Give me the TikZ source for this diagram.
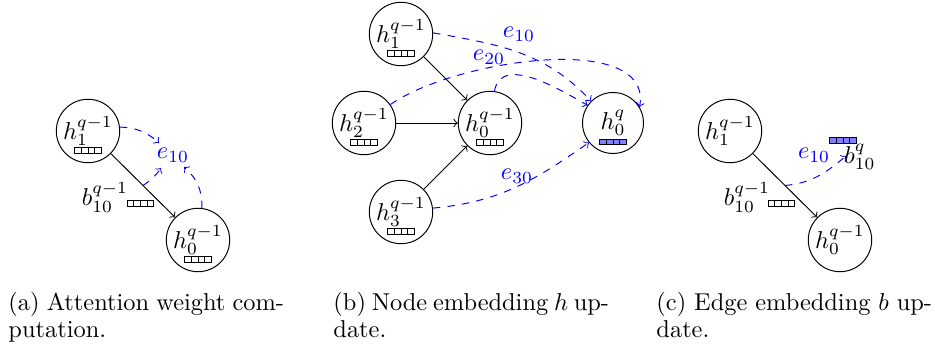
\documentclass[tikz,border=0pt]{standalone}
\begin{document}
\begin{tikzpicture}[x=0.41pt,y=-0.41pt,
  vnode/.style={circle,draw,minimum size=26pt,inner sep=0pt},
  lbl/.style={inner sep=0pt},
  conn/.style={->},
  att/.style={->,blue,dashed},
  elbl/.style={inner sep=0pt,text=blue},
  captext/.style={inner sep=0pt,anchor=north west,text width=113pt,align=justify,font=\fontsize{10}{11.2}\selectfont},
  pics/embbar/.style={code={\foreach \i in {0,1,2,3}{\draw[line width=0.4pt,fill=#1] ({(\i-2)*2.7pt},-1.15pt) rectangle ++(2.7pt,2.3pt);}}},
]
\useasboundingbox (0,0) rectangle (935,347);

% ---------- panel (a)
\node[vnode] (A1) at (88,131) {$h^{q-1}_1$};
\node[vnode] (A0) at (198,240) {$h^{q-1}_0$};
\path (88,150.5) pic {embbar=white};
\path (198,259.5) pic {embbar=white};
\draw[conn] (A1) -- coordinate[pos=0.5] (Am) (A0);
\node[elbl] (Ae) at (173,155) {$e_{10}$};
\node[lbl] (Ab) at (105,197.5) {$b^{q-1}_{10}$};
\path (140.5,203.7) pic {embbar=white};
\coordinate (Aet1) at (159,143);
\coordinate (Aet2) at (161,168);
\coordinate (Aet3) at (184,167);
\draw[att] (A1.7) to[bend left=20] (Aet1);
\draw[att] (Am) to[bend right=10] (Aet2);
\draw[att] (A0.83) to[bend right=25] (Aet3);

% ---------- panel (b)
\node[vnode] (B1) at (401,34) {$h^{q-1}_1$};
\node[vnode] (B2) at (364,123) {$h^{q-1}_2$};
\node[vnode] (B0) at (490,123) {$h^{q-1}_0$};
\node[vnode] (B3) at (401,212) {$h^{q-1}_3$};
\node[vnode,minimum size=25pt] (BQ) at (613,123) {$h^{q}_0$};
\path (401,53.5) pic {embbar=white};
\path (364,142.5) pic {embbar=white};
\path (490,142.5) pic {embbar=white};
\path (401,231.5) pic {embbar=white};
\path (613,142) pic {embbar=blue!50};
\draw[conn] (B1) -- (B0);
\draw[conn] (B2) -- (B0);
\draw[conn] (B3) -- (B0);
\draw[att] (B1.2) to[out=-10,in=133] (BQ.135);
\draw[att] (B2.35) to[out=35,in=80,looseness=0.8] (BQ.31);
\draw[att] (B0.82) to[out=80,in=152,out looseness=1.1,in looseness=0.6] (BQ.145);
\draw[att] (B3.7) to[out=5,in=215] (BQ.219);
\node[elbl] (Be1) at (519,34) {$e_{10}$};
\node[elbl] (Be2) at (489,57) {$e_{20}$};
\node[elbl] (Be3) at (517,176) {$e_{30}$};

% ---------- panel (c)
\node[vnode] (C1) at (730,131) {$h^{q-1}_1$};
\node[vnode] (C0) at (840,240) {$h^{q-1}_0$};
\draw[conn] (C1) -- coordinate[pos=0.5] (Cm) (C0);
\coordinate (Cet) at (846,156);
\draw[att] (Cm) to[out=5,in=220] (Cet);
\node[elbl] (Ce) at (814,155) {$e_{10}$};
\node[lbl] (Cb) at (747,197.5) {$b^{q-1}_{10}$};
\path (781.5,203.7) pic {embbar=white};
\path (843,140.5) pic {embbar=blue!50};
\node[lbl] (Cbq) at (860,157) {$b^{q}_{10}$};

% ---------- captions
\node[captext] (capa) at (8,291.7) {(a) Attention weight com-\linebreak putation.};
\node[captext] (capb) at (333,291.7) {(b) Node embedding $h$ up-\linebreak date.};
\node[captext] (capc) at (656,291.7) {(c) Edge embedding $b$ up-\linebreak date.};
\end{tikzpicture}
\end{document}
